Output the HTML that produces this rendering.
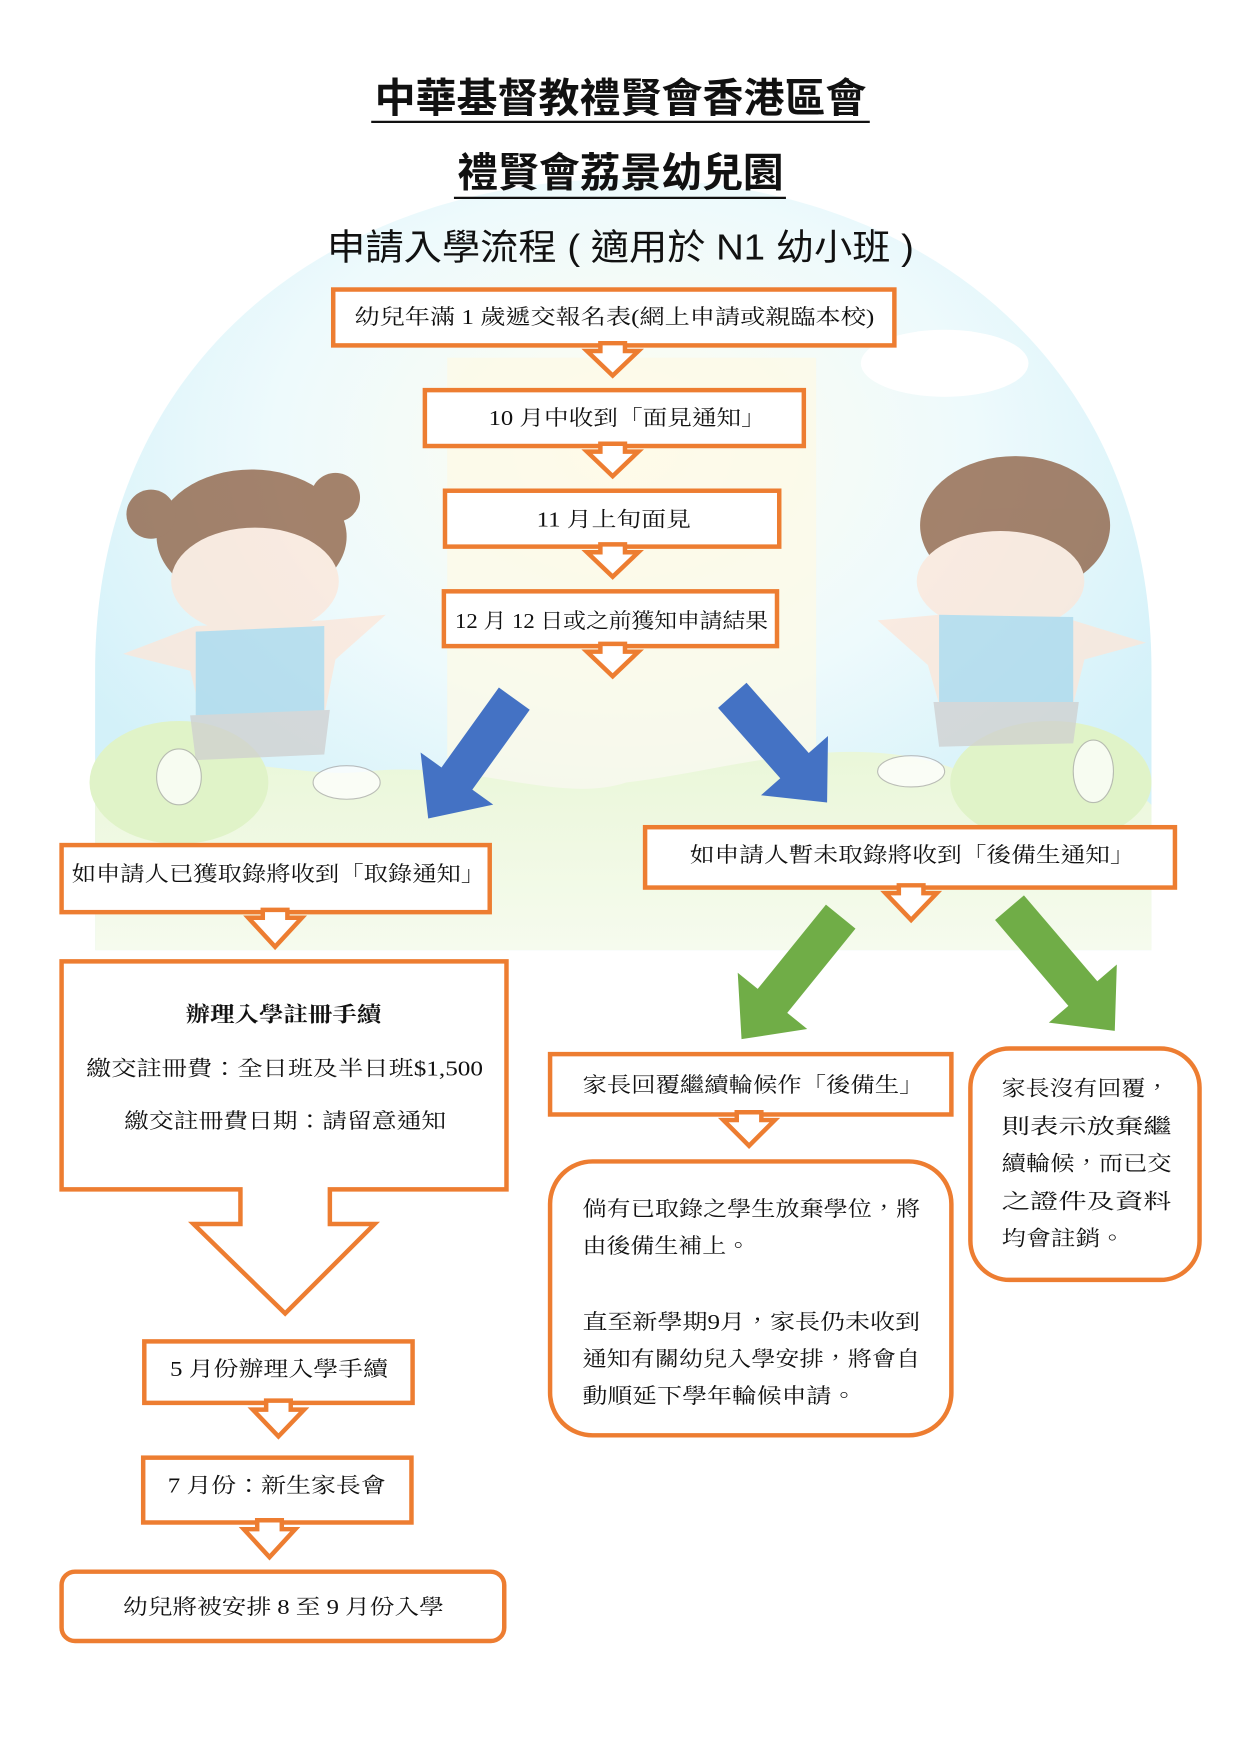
<!DOCTYPE html>
<html><head><meta charset="utf-8"><style>
html,body{margin:0;padding:0;background:#fff;}
svg{display:block;}
text{font-family:"Liberation Serif","Noto Serif CJK TC","Noto Serif CJK SC",serif;fill:#111;}
.s{font-family:"Liberation Sans","Noto Sans CJK TC",sans-serif;}
</style></head><body>
<svg width="1241" height="1755" viewBox="0 0 1110 1570" xmlns="http://www.w3.org/2000/svg">
<defs>
<radialGradient id="sky" cx="50%" cy="35%" r="60%">
<stop offset="0" stop-color="#fffdf0"/><stop offset="0.55" stop-color="#eefafc"/><stop offset="1" stop-color="#d3f1f9"/>
</radialGradient>
<linearGradient id="grass" x1="0" y1="0" x2="0" y2="1"><stop offset="0" stop-color="#eaf7d9"/><stop offset="1" stop-color="#f6fbee"/></linearGradient>
</defs>
<path d="M85,600 C85,320 300,160 560,160 C820,160 1030,320 1030,600 L1030,850 L85,850 Z" fill="url(#sky)"/>
<rect x="400" y="320" width="330" height="440" fill="#fdf9e6" opacity="0.7"/>
<path d="M85,720 C150,650 250,700 330,690 C420,680 500,720 560,700 C650,690 760,650 860,690 C950,660 1010,700 1030,720 L1030,850 L85,850 Z" fill="url(#grass)"/>
<ellipse cx="160" cy="700" rx="80" ry="55" fill="#e0f3c8"/>
<ellipse cx="940" cy="700" rx="90" ry="55" fill="#e0f3c8"/>
<ellipse cx="845" cy="325" rx="75" ry="30" fill="#fff"/>
<g opacity="0.75">
<ellipse cx="225" cy="480" rx="85" ry="60" fill="#8a5a3c"/>
<circle cx="135" cy="460" r="22" fill="#8a5a3c"/><circle cx="300" cy="445" r="22" fill="#8a5a3c"/>
<ellipse cx="228" cy="520" rx="75" ry="48" fill="#fde6d8"/>
<path d="M110,585 L175,560 L290,555 L345,550 L300,590 L290,640 L180,640 L170,600 Z" fill="#fde6d8"/>
<path d="M175,565 L290,560 L290,640 L175,640 Z" fill="#a9d7ea"/>
<path d="M170,640 L295,635 L290,675 L175,680 Z" fill="#cfcfcf"/>
<ellipse cx="160" cy="695" rx="20" ry="25" fill="#fff" stroke="#aaa"/>
<ellipse cx="310" cy="700" rx="30" ry="15" fill="#fff" stroke="#aaa"/>
</g>
<g opacity="0.75">
<ellipse cx="908" cy="470" rx="85" ry="62" fill="#8a5a3c"/>
<ellipse cx="895" cy="520" rx="75" ry="45" fill="#fde6d8"/>
<path d="M785,555 L840,550 L960,555 L1025,575 L970,590 L960,630 L840,630 L830,595 Z" fill="#fde6d8"/>
<path d="M840,550 L960,552 L960,630 L840,630 Z" fill="#a9d7ea"/>
<path d="M835,628 L965,628 L960,665 L840,668 Z" fill="#cfcfcf"/>
<ellipse cx="815" cy="690" rx="30" ry="14" fill="#fff" stroke="#aaa"/>
<ellipse cx="978" cy="690" rx="18" ry="28" fill="#fff" stroke="#aaa"/>
</g>

<text class="s" x="555" y="100" text-anchor="middle" font-size="36" font-weight="bold" textLength="440" lengthAdjust="spacingAndGlyphs">中華基督教禮賢會香港區會</text>
<line x1="332" y1="109" x2="778" y2="109" stroke="#111" stroke-width="2"/>
<text class="s" x="555" y="167" text-anchor="middle" font-size="36" font-weight="bold" textLength="292" lengthAdjust="spacingAndGlyphs">禮賢會荔景幼兒園</text>
<line x1="406" y1="177" x2="703" y2="177" stroke="#111" stroke-width="2"/>
<text class="s" x="555" y="232" text-anchor="middle" font-size="32" textLength="525" lengthAdjust="spacingAndGlyphs">申請入學流程 ( 適用於 N1 幼小班 )</text>

<g fill="#fff" stroke="#ED7D31" stroke-width="4">
<rect x="298" y="259" width="502" height="50"/>
<rect x="380" y="349" width="339" height="50"/>
<rect x="398" y="439" width="299" height="50"/>
<rect x="397" y="529" width="298" height="49"/>
<rect x="55" y="756" width="383" height="60"/>
<rect x="577" y="740" width="474" height="54"/>
<path d="M55,860 L453,860 L453,1064 L295,1064 L295,1095 L335,1095 L255,1175 L173,1095 L215,1095 L215,1064 L55,1064 Z"/>
<rect x="129" y="1200" width="240" height="55"/>
<rect x="128" y="1304" width="240" height="58"/>
<rect x="55" y="1406" width="396" height="62" rx="12"/>
<rect x="492" y="943" width="359" height="54"/>
<rect x="492" y="1039" width="359" height="245" rx="38"/>
<rect x="868" y="938" width="205" height="207" rx="35"/>
<path d="M537,307 L559,307 L559,314 L571,314 L548,336 L525,314 L537,314 Z"/>
<path d="M537,397 L559,397 L559,404 L571,404 L548,426 L525,404 L537,404 Z"/>
<path d="M537,487 L559,487 L559,494 L571,494 L548,516 L525,494 L537,494 Z"/>
<path d="M537,576 L559,576 L559,583 L571,583 L548,605 L525,583 L537,583 Z"/>
<path d="M235,814 L257,814 L257,821 L270,821 L246,847 L222,821 L235,821 Z"/>
<path d="M804,792 L826,792 L826,799 L838,799 L815,823 L792,799 L804,799 Z"/>
<path d="M659,995 L681,995 L681,1002 L693,1002 L670,1025 L647,1002 L659,1002 Z"/>
<path d="M238,1253 L260,1253 L260,1261 L272,1261 L249,1285 L226,1261 L238,1261 Z"/>
<path d="M230,1360 L252,1360 L252,1368 L264,1368 L241,1393 L218,1368 L230,1368 Z"/>
</g>

<g>
<path transform="translate(460,625) rotate(125.7)" d="M0,-17 L88,-17 L88,-40 L132,0 L88,40 L88,17 L0,17 Z" fill="#4472C4"/>
<path transform="translate(655,622) rotate(48.5)" d="M0,-17 L84,-17 L84,-40 L128,0 L84,40 L84,17 L0,17 Z" fill="#4472C4"/>
<path transform="translate(752,820) rotate(129)" d="M0,-17 L97,-17 L97,-40 L141,0 L97,40 L97,17 L0,17 Z" fill="#70AD47"/>
<path transform="translate(903,812) rotate(49.5)" d="M0,-17 L101,-17 L101,-40 L145,0 L101,40 L101,17 L0,17 Z" fill="#70AD47"/>
</g>

<g font-size="19">
<text x="317" y="290" textLength="465" lengthAdjust="spacingAndGlyphs">幼兒年滿 1 歲遞交報名表(網上申請或親臨本校)</text>
<text x="437" y="380" textLength="248" lengthAdjust="spacingAndGlyphs">10 月中收到「面見通知」</text>
<text x="480" y="471" textLength="138" lengthAdjust="spacingAndGlyphs">11 月上旬面見</text>
<text x="407" y="562" textLength="280" lengthAdjust="spacingAndGlyphs">12 月 12 日或之前獲知申請結果</text>
<text x="64" y="788" textLength="370" lengthAdjust="spacingAndGlyphs">如申請人已獲取錄將收到「取錄通知」</text>
<text x="617" y="771" textLength="398" lengthAdjust="spacingAndGlyphs">如申請人暫未取錄將收到「後備生通知」</text>
<text x="166" y="914" font-weight="bold" textLength="175" lengthAdjust="spacingAndGlyphs">辦理入學註冊手續</text>
<text x="77" y="962" textLength="355" lengthAdjust="spacingAndGlyphs">繳交註冊費：全日班及半日班$1,500</text>
<text x="111" y="1009" textLength="288" lengthAdjust="spacingAndGlyphs">繳交註冊費日期：請留意通知</text>
<text x="152" y="1231" textLength="195" lengthAdjust="spacingAndGlyphs">5 月份辦理入學手續</text>
<text x="150" y="1335" textLength="195" lengthAdjust="spacingAndGlyphs">7 月份：新生家長會</text>
<text x="110" y="1444" textLength="287" lengthAdjust="spacingAndGlyphs">幼兒將被安排 8 至 9 月份入學</text>
<text x="521" y="977" textLength="305" lengthAdjust="spacingAndGlyphs">家長回覆繼續輪候作「後備生」</text>
<text x="521" y="1088" textLength="302" lengthAdjust="spacingAndGlyphs">倘有已取錄之學生放棄學位，將</text>
<text x="521" y="1121" textLength="150" lengthAdjust="spacingAndGlyphs">由後備生補上。</text>
<text x="521" y="1189" textLength="302" lengthAdjust="spacingAndGlyphs">直至新學期9月，家長仍未收到</text>
<text x="521" y="1222" textLength="302" lengthAdjust="spacingAndGlyphs">通知有關幼兒入學安排，將會自</text>
<text x="521" y="1255" textLength="245" lengthAdjust="spacingAndGlyphs">動順延下學年輪候申請。</text>
<text x="896" y="980" textLength="150" lengthAdjust="spacingAndGlyphs">家長沒有回覆，</text>
<text x="896" y="1014" textLength="152" lengthAdjust="spacingAndGlyphs">則表示放棄繼</text>
<text x="896" y="1047" textLength="152" lengthAdjust="spacingAndGlyphs">續輪候，而已交</text>
<text x="896" y="1081" textLength="152" lengthAdjust="spacingAndGlyphs">之證件及資料</text>
<text x="896" y="1114" textLength="110" lengthAdjust="spacingAndGlyphs">均會註銷。</text>
</g>
</svg>
</body></html>
